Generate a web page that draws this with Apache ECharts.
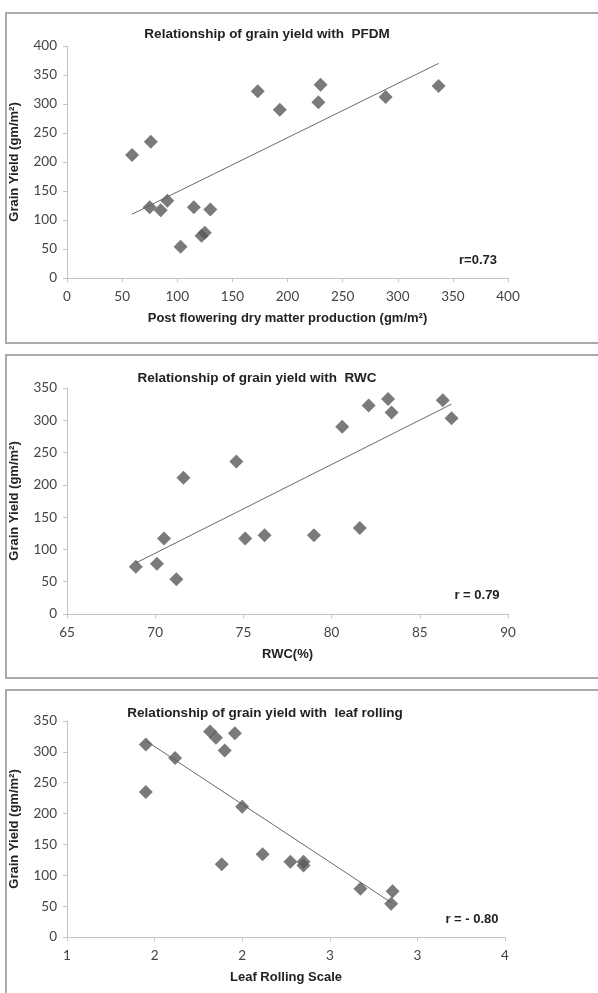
<!DOCTYPE html>
<html>
<head>
<meta charset="utf-8">
<script src="https://cdn.jsdelivr.net/npm/echarts@6/dist/echarts.min.js"></script>
<style>
  html, body { margin: 0; padding: 0; background: #fff; }
  #main { width: 598px; height: 993px; }
</style>
</head>
<body>
<div id="main"></div>
<script>
// 数据
var pfdmX = [59, 76, 75, 85, 91, 103, 115, 122, 125, 130, 173, 193, 228, 230, 289, 337];
var pfdmY = [212, 235, 122, 117, 133, 54, 122, 73, 78, 118, 322, 290, 303, 333, 312, 331];
var pfdmTrendX = [59, 337];
var pfdmTrendY = [110, 370];

var rwcX = [68.9, 70.1, 70.5, 71.2, 71.6, 74.6, 75.1, 76.2, 79.0, 80.6, 81.6, 82.1, 83.2, 83.4, 86.3, 86.8];
var rwcY = [73, 78, 117, 54, 211, 236, 117, 122, 122, 290, 133, 323, 333, 312, 331, 303];
var rwcTrendX = [68.9, 86.8];
var rwcTrendY = [79, 325];

var leafX = [1.54, 1.54, 1.74, 1.98, 2.02, 2.08, 2.15, 2.06, 2.20, 2.34, 2.53, 2.62, 2.62, 3.01, 3.22, 3.23];
var leafY = [312, 235, 290, 333, 323, 302, 330, 118, 211, 134, 122, 122, 116, 78, 54, 74];
var leafTrendX = [1.54, 3.22];
var leafTrendY = [318, 56];

var titles = [
    'Relationship of grain yield with  PFDM',
    'Relationship of grain yield with  RWC',
    'Relationship of grain yield with  leaf rolling'
];
var xNames = ['Post flowering dry matter production (gm/m\u00b2)', 'RWC(%)', 'Leaf Rolling Scale'];
var yName = 'Grain Yield (gm/m\u00b2)';
var rLabels = ['r=0.73', 'r = 0.79', 'r = - 0.80'];

var tickFont = 'Lato';
var boldFont = 'Liberation Sans';
var axisGray = '#c4c4c4';

function pairs(xs, ys) {
    return xs.map(function (x, i) { return [x, ys[i]]; });
}

function xAxisCfg(idx, min, max, interval, fmt) {
    return {
        gridIndex: idx,
        type: 'value',
        min: min,
        max: max,
        interval: interval,
        name: xNames[idx],
        nameLocation: 'middle',
        nameGap: 34,
        nameTextStyle: { fontFamily: boldFont, fontWeight: 'bold', fontSize: 13, color: '#222' },
        splitLine: { show: false },
        axisLine: { show: true, onZero: false, lineStyle: { color: axisGray, width: 1 } },
        axisTick: { show: true, length: 4, lineStyle: { color: axisGray } },
        axisLabel: {
            margin: 12,
            fontFamily: tickFont,
            fontSize: 13.5,
            color: '#444',
            formatter: fmt
        }
    };
}

function yAxisCfg(idx, max) {
    return {
        gridIndex: idx,
        type: 'value',
        min: 0,
        max: max,
        interval: 50,
        name: yName,
        nameLocation: 'middle',
        nameGap: 46,
        nameTextStyle: { fontFamily: boldFont, fontWeight: 'bold', fontSize: 13, color: '#222' },
        splitLine: { show: false },
        axisLine: { show: true, lineStyle: { color: axisGray, width: 1 } },
        axisTick: { show: true, length: 4, lineStyle: { color: axisGray } },
        axisLabel: { margin: 10, fontFamily: tickFont, fontSize: 13.5, color: '#444' }
    };
}

function scatterSeries(idx, xs, ys) {
    return {
        type: 'scatter',
        xAxisIndex: idx,
        yAxisIndex: idx,
        symbol: 'diamond',
        symbolSize: 14,
        itemStyle: { color: '#595959' },
        data: pairs(xs, ys)
    };
}

function trendSeries(idx, xs, ys) {
    return {
        type: 'line',
        xAxisIndex: idx,
        yAxisIndex: idx,
        symbol: 'none',
        silent: true,
        lineStyle: { color: '#6a6a6a', width: 1 },
        data: pairs(xs, ys),
        z: 1
    };
}

var frameTops = [13, 355, 690];
var frameHeights = [330, 323, 330];
var titleY = [33, 377, 712];
var rPos = [[478, 260], [477, 595], [472, 919]];

var graphics = [];
frameTops.forEach(function (t, i) {
    graphics.push({
        type: 'rect',
        shape: { x: 6, y: t, width: 600, height: frameHeights[i] },
        style: { fill: 'none', stroke: '#aaaaaa', lineWidth: 2 },
        silent: true
    });
});
rPos.forEach(function (p, i) {
    graphics.push({
        type: 'text',
        x: p[0],
        y: p[1],
        style: {
            text: rLabels[i],
            font: 'bold 13px "Liberation Sans"',
            fill: '#222',
            align: 'center',
            verticalAlign: 'middle'
        }
    });
});

var option = {
    animation: false,
    backgroundColor: '#fff',
    title: [
        { text: titles[0], left: 267, top: titleY[0] - 6 },
        { text: titles[1], left: 257, top: titleY[1] - 6 },
        { text: titles[2], left: 265, top: titleY[2] - 6 }
    ].map(function (t) {
        t.textAlign = 'center';
        t.padding = 0;
        t.textStyle = { fontFamily: boldFont, fontWeight: 'bold', fontSize: 13.5, color: '#222' };
        return t;
    }),
    grid: [
        { left: 64, right: 90, top: 46, bottom: 715 },
        { left: 64, right: 90, top: 388, bottom: 379 },
        { left: 64, right: 93, top: 721, bottom: 56 }
    ],
    xAxis: [
        xAxisCfg(0, 0, 400, 50),
        xAxisCfg(1, 65, 90, 5),
        xAxisCfg(2, 1, 4, 0.6, function (v) { return Math.round(v); })
    ],
    yAxis: [
        yAxisCfg(0, 400),
        yAxisCfg(1, 350),
        yAxisCfg(2, 350)
    ],
    series: [
        trendSeries(0, pfdmTrendX, pfdmTrendY),
        scatterSeries(0, pfdmX, pfdmY),
        trendSeries(1, rwcTrendX, rwcTrendY),
        scatterSeries(1, rwcX, rwcY),
        trendSeries(2, leafTrendX, leafTrendY),
        scatterSeries(2, leafX, leafY)
    ],
    graphic: graphics
};

var chart = echarts.init(document.getElementById('main'));
chart.setOption(option);
</script>
</body>
</html>
